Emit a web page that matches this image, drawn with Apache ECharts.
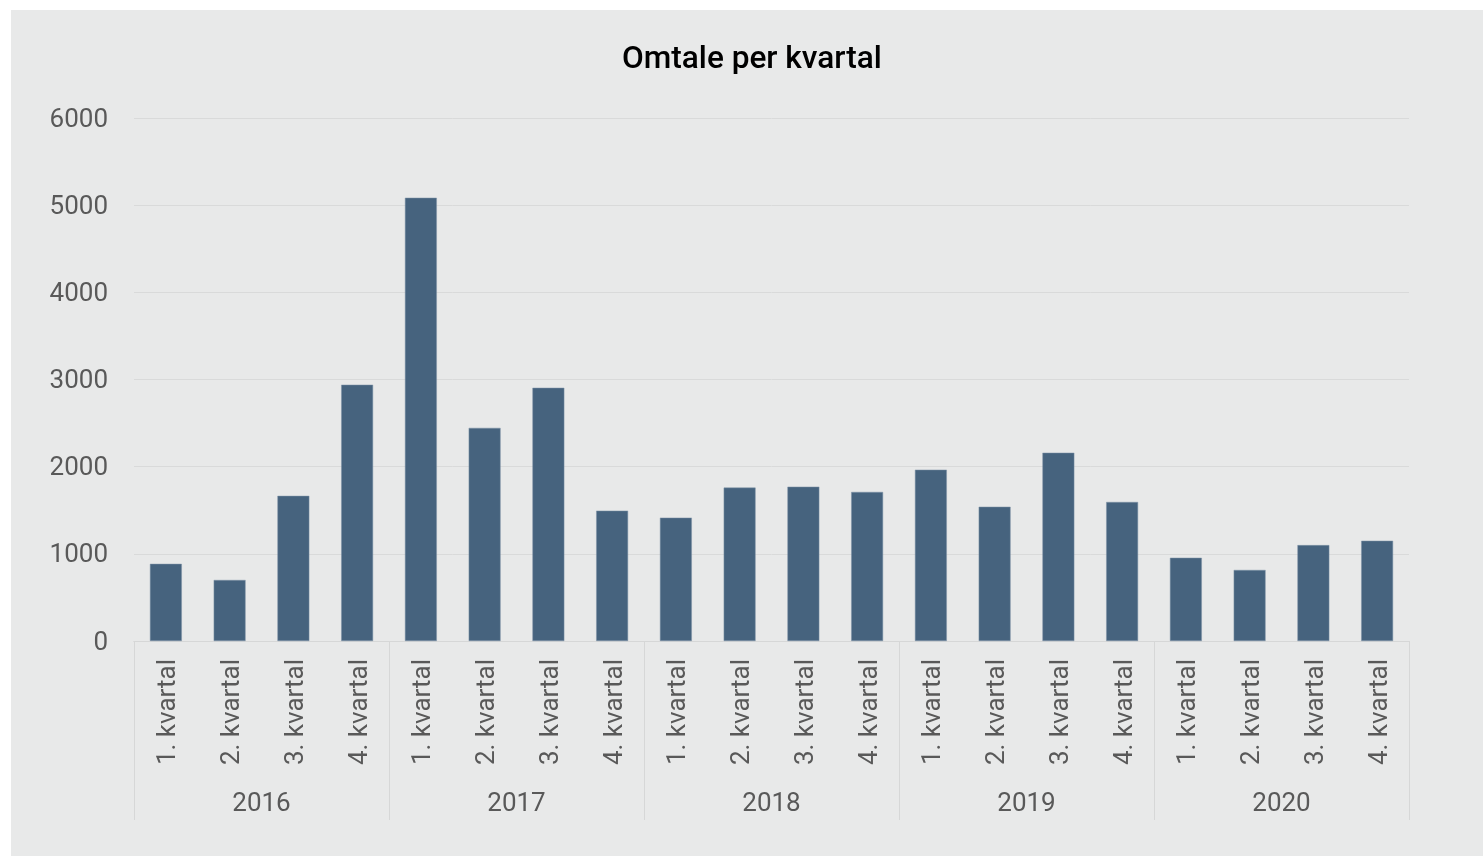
<!DOCTYPE html>
<html>
<head>
<meta charset="utf-8">
<script src="https://cdn.jsdelivr.net/npm/echarts@6/dist/echarts.min.js"></script>
<style>
html, body { margin: 0; padding: 0; background: #ffffff; }
#chart {
    position: absolute;
    left: 11px;
    top: 10px;
    width: 1472px;
    height: 846px;
    background: #e8e9e9;
}
</style>
</head>
<body>
<div id="chart"></div>
<script>
// data
const years = ['2016', '2017', '2018', '2019', '2020'];
const quarters = ['1. kvartal', '2. kvartal', '3. kvartal', '4. kvartal'];
const omtale = [
    885, 700, 1665, 2940,      // 2016
    5085, 2445, 2905, 1495,    // 2017
    1415, 1760, 1770, 1710,    // 2018
    1965, 1540, 2160, 1595,    // 2019
    955, 815, 1100, 1150       // 2020
];
const yTicks = { min: 0, max: 6000, step: 1000 };

// one category per quarter in each year
let quarterLabels = [];
years.forEach(function (y) {
    quarters.forEach(function (q) { quarterLabels.push(q); });
});

let labelFont = { fontFamily: 'Roboto', fontSize: 26, color: '#595959' };

let chart = echarts.init(document.getElementById('chart'));
let option = {
    animation: false,
    title: {
        text: 'Omtale per kvartal',
        left: 606,
        top: 29,
        textStyle: {
            fontFamily: 'Roboto',
            fontSize: 31.6,
            fontWeight: 500,
            color: '#000000'
        }
    },
    grid: {
        left: 123,
        right: 74,
        top: 108,
        bottom: 215
    },
    xAxis: [
        {
            type: 'category',
            data: quarterLabels,
            position: 'bottom',
            axisLine: { show: true, lineStyle: { color: '#d6d7d7', width: 1 } },
            axisTick: { show: false },
            axisLabel: {
                rotate: 90,
                interval: 0,
                margin: 18,
                fontFamily: 'Roboto',
                fontSize: 26,
                color: '#595959',
                formatter: function (v) { return '{q|' + v + '}'; },
                rich: {
                    q: Object.assign({ padding: [6, 0, 0, 0] }, labelFont)
                }
            }
        },
        {
            type: 'category',
            data: years,
            position: 'bottom',
            axisLine: { show: true, lineStyle: { color: '#d6d7d7', width: 1 } },
            axisTick: {
                show: true,
                interval: 0,
                length: 179,
                lineStyle: { color: '#d6d7d7', width: 1 }
            },
            axisLabel: Object.assign({ interval: 0, margin: 150 }, labelFont)
        }
    ],
    yAxis: {
        type: 'value',
        min: yTicks.min,
        max: yTicks.max,
        interval: yTicks.step,
        axisLine: { show: false },
        axisTick: { show: false },
        splitLine: { lineStyle: { color: '#d9dada', width: 1 } },
        axisLabel: {
            margin: 26,
            fontFamily: 'Roboto',
            fontSize: 26,
            color: '#595959',
            formatter: function (v) { return '{n|' + v + '}'; },
            rich: {
                n: Object.assign({ padding: [4, 0, 0, 0] }, labelFont)
            }
        }
    },
    series: [
        {
            name: 'Omtale',
            type: 'bar',
            xAxisIndex: 0,
            barWidth: '50%',
            data: omtale,
            itemStyle: {
                color: '#46637e',
                borderColor: '#7f93a6',
                borderWidth: 0.5
            }
        }
    ]
};
chart.setOption(option);
</script>
</body>
</html>
